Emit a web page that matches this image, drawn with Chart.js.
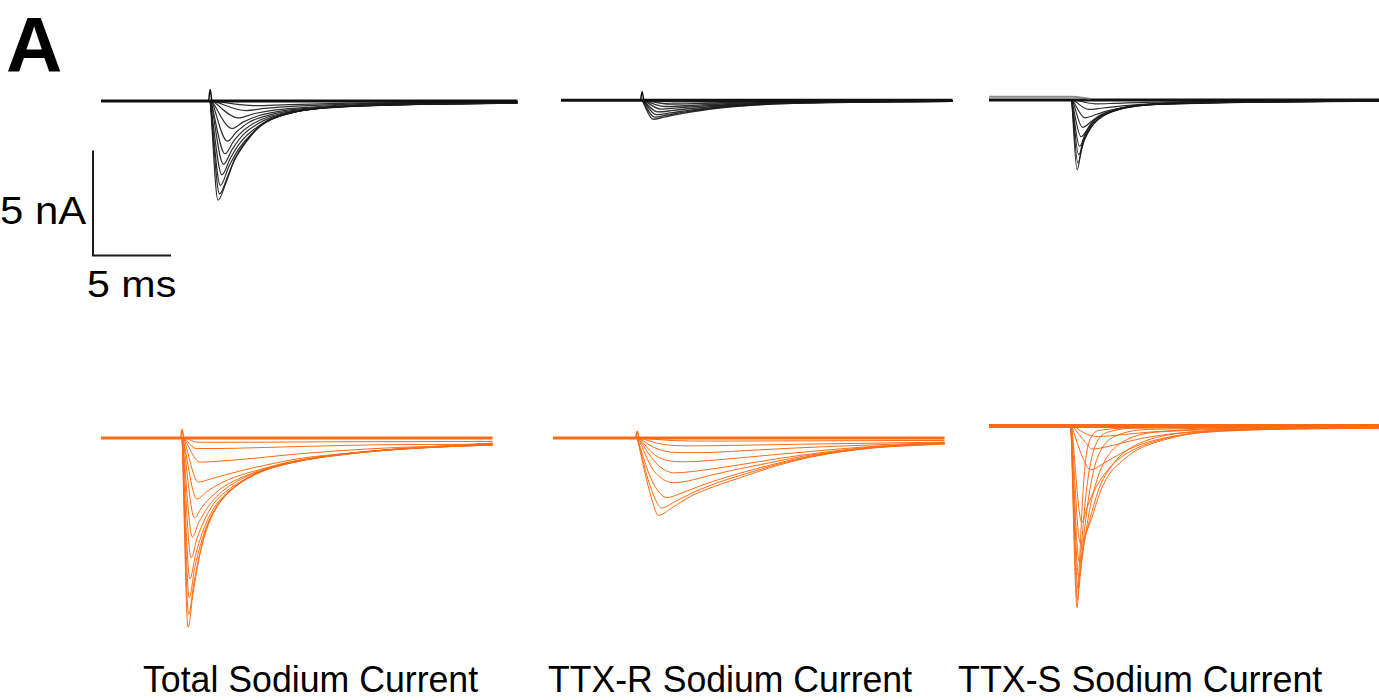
<!DOCTYPE html>
<html>
<head>
<meta charset="utf-8">
<script src="https://cdn.jsdelivr.net/npm/chart.js@4.4.1/dist/chart.umd.min.js"></script>
<style>
  body { margin: 0; background: #fff; width: 1379px; height: 700px; overflow: hidden; position: relative;
         font-family: "Liberation Sans", Arial, sans-serif; }
  canvas { position: absolute; }
  .t { position: absolute; white-space: nowrap; line-height: 1; color: #000; transform-origin: 0 0; }
</style>
</head>
<body>
<div class="t" id="lblA" style="font-weight:bold;font-size:78px;left:6px;top:6px">A</div>
<div class="t" id="lblNA" data-w="86" style="font-size:38px;left:0px;top:192px">5 nA</div>
<div class="t" id="lblMS" data-w="89" style="font-size:37px;left:87px;top:266px">5 ms</div>
<div class="t" data-w="335" style="font-size:36px;left:143px;top:662px">Total Sodium Current</div>
<div class="t" data-w="364" style="font-size:36px;left:548px;top:662px">TTX-R Sodium Current</div>
<div class="t" data-w="364" style="font-size:36px;left:958px;top:662px">TTX-S Sodium Current</div>
<script>
// scale of the figure: 5 ms / 5 nA scale bar
const PX_MS = 15.6, PX_NA = 21;
const scaleBar = [[0, 5], [0, 0], [5, 0]];

// ---- control (black) ----  [time ms, current nA]
const totalBlackBase = [[0, 0], [26.7, 0]];
const totalBlackArtifact = [[6.9, 0], [7.0, 0.55], [7.1, 0]];
const totalBlackTraces = [
  [[7.0, 0], [7.5, -4.7], [8.0, -3.9], [8.5, -2.9], [9.4, -1.85], [10.4, -1.05], [12.1, -0.57], [14.2, -0.33], [18.5, -0.19], [26.7, -0.1]],
  [[7.0, 0], [7.6, -4.4], [8.1, -3.6], [8.6, -2.7], [9.4, -1.8], [10.4, -1.05], [12.1, -0.57], [14.2, -0.32], [18.5, -0.18], [26.7, -0.1]],
  [[7.0, 0], [7.65, -4.0], [8.2, -3.1], [8.8, -2.3], [9.6, -1.6], [10.6, -1.0], [12.3, -0.55], [14.5, -0.31], [26.7, -0.09]],
  [[7.0, 0], [7.75, -3.5], [8.3, -2.7], [9.0, -1.9], [9.8, -1.35], [10.8, -0.9], [12.5, -0.5], [15, -0.28], [26.7, -0.08]],
  [[7.05, 0], [7.85, -3.0], [8.4, -2.3], [9.1, -1.6], [10, -1.1], [11, -0.75], [12.8, -0.45], [15.5, -0.25], [26.7, -0.08]],
  [[7.05, 0], [7.95, -2.5], [8.5, -1.9], [9.2, -1.35], [10.2, -0.9], [11.5, -0.6], [13.5, -0.38], [26.7, -0.07]],
  [[7.1, 0], [8.1, -1.9], [8.7, -1.45], [9.5, -1.0], [10.6, -0.7], [12, -0.48], [14.5, -0.3], [26.7, -0.06]],
  [[7.1, 0], [8.4, -1.3], [9.1, -1.0], [10, -0.72], [11.5, -0.48], [13.5, -0.32], [26.7, -0.05]],
  [[7.15, 0], [8.8, -0.8], [9.8, -0.6], [11.2, -0.42], [13.5, -0.28], [17, -0.15], [26.7, -0.05]],
  [[7.2, 0], [9.3, -0.45], [10.5, -0.35], [12.5, -0.24], [16, -0.14], [26.7, -0.04]],
  [[7.2, 0], [9.8, -0.22], [12, -0.17], [16, -0.1], [26.7, -0.03]]
];

const ttxrBlackBase = [[0, 0], [25.1, 0]];
const ttxrBlackArtifact = [[5.1, 0], [5.2, 0.4], [5.3, 0]];
const ttxrBlackTraces = [
  [[5.2, 0], [5.9, -0.9], [6.6, -0.8], [7.8, -0.62], [10, -0.38], [13.2, -0.19], [18.5, -0.1], [25.1, -0.05]],
  [[5.2, 0], [6.0, -0.8], [6.8, -0.7], [8, -0.55], [10.2, -0.34], [13.4, -0.18], [25.1, -0.05]],
  [[5.25, 0], [6.1, -0.68], [7, -0.6], [8.2, -0.48], [10.4, -0.3], [13.6, -0.16], [25.1, -0.04]],
  [[5.25, 0], [6.2, -0.55], [7.2, -0.48], [8.5, -0.38], [10.6, -0.25], [14, -0.14], [25.1, -0.04]],
  [[5.3, 0], [6.4, -0.42], [7.5, -0.36], [9, -0.28], [11, -0.2], [14.5, -0.11], [25.1, -0.03]],
  [[5.3, 0], [6.7, -0.3], [8, -0.26], [9.5, -0.2], [12, -0.13], [25.1, -0.03]],
  [[5.35, 0], [7, -0.18], [9, -0.15], [12, -0.09], [25.1, -0.02]],
  [[5.4, 0], [7.5, -0.08], [10, -0.07], [25.1, -0.02]]
];

const ttxsBlackBase = [[0, 0], [25, 0]];
const ttxsBlackNoise = [[0, 0.15], [5.3, 0.15], [6.5, 0.05]];
const ttxsBlackTraces = [
  [[5.3, 0], [5.65, -3.33], [6.0, -1.95], [6.35, -1.35], [6.7, -0.95], [7.95, -0.48], [9.7, -0.24], [12.2, -0.14], [25, -0.06]],
  [[5.3, 0], [5.7, -3.0], [6.05, -2.0], [6.4, -1.4], [6.8, -0.95], [8, -0.48], [9.8, -0.24], [25, -0.06]],
  [[5.3, 0], [5.75, -2.6], [6.15, -1.85], [6.55, -1.3], [7, -0.9], [8.1, -0.47], [10, -0.23], [25, -0.05]],
  [[5.3, 0], [5.8, -2.2], [6.25, -1.6], [6.7, -1.15], [7.2, -0.82], [8.3, -0.45], [10.2, -0.22], [25, -0.05]],
  [[5.3, 0], [5.9, -1.75], [6.4, -1.3], [6.9, -0.95], [7.5, -0.68], [8.6, -0.4], [10.5, -0.2], [25, -0.05]],
  [[5.35, 0], [6.0, -1.3], [6.6, -1.0], [7.2, -0.75], [7.9, -0.54], [9, -0.34], [11, -0.18], [25, -0.04]],
  [[5.35, 0], [6.15, -0.85], [6.9, -0.68], [7.6, -0.52], [8.5, -0.38], [10, -0.24], [12, -0.14], [25, -0.04]],
  [[5.4, 0], [6.4, -0.45], [7.3, -0.38], [8.3, -0.3], [9.5, -0.22], [12, -0.12], [25, -0.03]],
  [[5.45, 0], [6.8, -0.18], [8, -0.16], [10, -0.11], [25, -0.02]]
];

// ---- orange ----
const totalOrangeBase = [[0, 0], [25.1, 0]];
const totalOrangeArtifact = [[5.1, 0], [5.2, 0.4], [5.3, 0]];
const totalOrangeTraces = [
  [[5.2, 0], [5.58, -9.0], [5.9, -7.4], [6.35, -5.5], [6.8, -4.2], [7.4, -3.3], [8.3, -2.5], [10, -1.7], [12.1, -1.2], [16.4, -0.71], [20.6, -0.43], [25.1, -0.24]],
  [[5.2, 0], [5.62, -8.4], [5.95, -6.9], [6.4, -5.3], [6.9, -4.1], [7.5, -3.2], [8.4, -2.45], [10, -1.68], [12.2, -1.18], [16.4, -0.7], [25.1, -0.25]],
  [[5.2, 0], [5.66, -7.6], [6.0, -6.2], [6.45, -4.9], [7.0, -3.8], [7.6, -3.05], [8.5, -2.35], [10.2, -1.62], [12.4, -1.14], [16.6, -0.68], [25.1, -0.26]],
  [[5.2, 0], [5.7, -6.7], [6.05, -5.6], [6.5, -4.5], [7.1, -3.5], [7.8, -2.8], [8.8, -2.2], [10.4, -1.55], [12.6, -1.1], [17, -0.66], [25.1, -0.27]],
  [[5.22, 0], [5.78, -5.7], [6.15, -4.8], [6.6, -3.95], [7.2, -3.15], [8, -2.55], [9, -2.05], [10.6, -1.48], [12.8, -1.06], [17, -0.65], [25.1, -0.28]],
  [[5.22, 0], [5.86, -4.7], [6.25, -4.05], [6.75, -3.4], [7.4, -2.8], [8.2, -2.3], [9.2, -1.88], [11, -1.38], [13, -1.02], [17.5, -0.62], [25.1, -0.29]],
  [[5.25, 0], [6.0, -3.8], [6.45, -3.3], [7, -2.85], [7.7, -2.4], [8.5, -2.05], [9.6, -1.7], [11.3, -1.3], [13.5, -0.96], [18, -0.6], [25.1, -0.3]],
  [[5.25, 0], [6.15, -2.9], [6.7, -2.6], [7.3, -2.3], [8.1, -2.0], [9, -1.75], [10.2, -1.5], [12, -1.15], [14.5, -0.88], [18.5, -0.57], [25.1, -0.32]],
  [[5.3, 0], [6.25, -2.1], [7, -1.95], [8, -1.75], [9, -1.55], [10.5, -1.3], [12.5, -1.0], [15, -0.78], [19, -0.52], [25.1, -0.33]],
  [[5.3, 0], [6.35, -1.15], [7.2, -1.12], [8.5, -1.05], [10, -0.95], [12, -0.8], [15, -0.62], [19, -0.45], [25.1, -0.35]],
  [[5.35, 0], [6.1, -0.5], [7.5, -0.5], [10, -0.46], [13, -0.4], [18, -0.32], [25.1, -0.3]],
  [[5.4, 0], [6.2, -0.2], [9, -0.2], [15, -0.18], [25.1, -0.16]]
];

const ttxrOrangeBase = [[0, 0], [25.1, 0]];
const ttxrOrangeArtifact = [[5.3, 0], [5.4, 0.32], [5.5, 0]];
const ttxrOrangeTraces = [
  [[5.4, 0], [6.0, -2.0], [6.4, -3.1], [6.75, -3.7], [7.7, -3.3], [8.8, -2.8], [10.3, -2.33], [12, -1.9], [14.1, -1.38], [16.3, -0.95], [18.4, -0.67], [20.5, -0.48], [25.1, -0.29]],
  [[5.4, 0], [6.1, -2.0], [6.6, -3.0], [6.95, -3.35], [7.8, -3.05], [9, -2.6], [10.5, -2.15], [12.2, -1.75], [14.3, -1.28], [16.5, -0.9], [20.5, -0.46], [25.1, -0.28]],
  [[5.4, 0], [6.2, -1.8], [6.8, -2.6], [7.3, -2.85], [8.2, -2.65], [9.4, -2.3], [11, -1.9], [12.8, -1.52], [15, -1.1], [17, -0.8], [21, -0.44], [25.1, -0.27]],
  [[5.45, 0], [6.4, -1.5], [7.1, -2.0], [7.7, -2.14], [8.7, -2.05], [10, -1.8], [11.8, -1.5], [13.8, -1.2], [16, -0.88], [21, -0.42], [25.1, -0.26]],
  [[5.45, 0], [6.6, -1.2], [7.2, -1.55], [7.8, -1.67], [9, -1.6], [10.5, -1.45], [12.5, -1.22], [14.5, -0.98], [17, -0.72], [21, -0.4], [25.1, -0.25]],
  [[5.5, 0], [6.5, -0.8], [7.5, -1.1], [8.5, -1.14], [10, -1.08], [12, -0.95], [14.5, -0.78], [17.5, -0.58], [21, -0.38], [25.1, -0.24]],
  [[5.5, 0], [6.6, -0.5], [8, -0.7], [9.5, -0.7], [12, -0.62], [15, -0.5], [18, -0.4], [25.1, -0.22]],
  [[5.55, 0], [7, -0.3], [9, -0.38], [12, -0.35], [16, -0.3], [25.1, -0.2]],
  [[5.6, 0], [7.5, -0.12], [10, -0.15], [16, -0.14], [25.1, -0.12]]
];

const ttxsOrangeBase = [[0, 0], [25, 0]];
const ttxsOrangeTraces = [
  [[5.25, 0], [5.65, -8.67], [5.8, -6.5], [6.0, -3.5], [6.2, -1.6], [6.5, -0.6], [7.2, -0.2], [10, -0.08], [25, -0.05]],
  [[5.25, 0], [5.68, -8.3], [5.9, -6.0], [6.2, -3.4], [6.5, -1.8], [6.9, -0.8], [7.6, -0.3], [10, -0.1], [25, -0.05]],
  [[5.25, 0], [5.72, -7.8], [6.0, -5.8], [6.35, -3.6], [6.75, -2.0], [7.3, -1.0], [8.2, -0.45], [11, -0.15], [25, -0.06]],
  [[5.25, 0], [5.76, -7.2], [6.1, -5.6], [6.5, -3.8], [7.0, -2.4], [7.6, -1.45], [8.6, -0.75], [11, -0.28], [25, -0.07]],
  [[5.25, 0], [5.8, -6.5], [6.2, -5.2], [6.67, -3.9], [7.1, -2.9], [7.76, -2.0], [8.6, -1.3], [10, -0.72], [13, -0.3], [25, -0.08]],
  [[5.28, 0], [5.86, -5.6], [6.28, -5.0], [6.67, -4.2], [7.1, -3.2], [7.76, -2.24], [8.4, -1.76], [9.5, -1.14], [11.2, -0.67], [13.3, -0.33], [16.5, -0.19], [25, -0.1]],
  [[5.3, 0], [5.95, -4.6], [6.3, -3.86], [6.8, -3.0], [7.4, -2.3], [8.2, -1.65], [9.5, -1.05], [11.2, -0.62], [13.3, -0.33], [25, -0.1]],
  [[5.3, 0], [6.0, -1.5], [6.5, -2.1], [7.2, -1.85], [8, -1.5], [9, -1.1], [10.5, -0.7], [12.5, -0.42], [15, -0.22], [25, -0.08]],
  [[5.35, 0], [6.2, -0.8], [6.6, -1.1], [7.5, -1.0], [8.5, -0.82], [10, -0.56], [12, -0.35], [15, -0.18], [25, -0.06]],
  [[5.4, 0], [6.3, -0.4], [7, -0.5], [8.5, -0.42], [10.5, -0.28], [14, -0.14], [25, -0.04]]
];

const BLACK = 'rgba(25,25,25,0.9)';
const ORANGE = '#ff6b14';

const toXY = pts => pts.map(p => ({ x: p[0], y: p[1] }));

function line(pts, color, width) {
  return {
    data: toXY(pts),
    borderColor: color,
    borderWidth: width,
    pointRadius: 0,
    fill: false,
    cubicInterpolationMode: 'monotone'
  };
}

// x0/base: pixel position of t=0 / I=0 on the page
function panel(x0, base, tEnd, yMin, yMax, datasets) {
  const pad = 8;
  const cv = document.createElement('canvas');
  const w = Math.round(tEnd * PX_MS + 2 * pad);
  const h = Math.round((yMax - yMin) * PX_NA);
  cv.width = w; cv.height = h;
  cv.style.left = (x0 - pad) + 'px';
  cv.style.top = Math.round(base - yMax * PX_NA) + 'px';
  cv.style.width = w + 'px'; cv.style.height = h + 'px';
  document.body.appendChild(cv);
  new Chart(cv, {
    type: 'line',
    data: { datasets },
    options: {
      responsive: false,
      animation: false,
      devicePixelRatio: 1,
      layout: { padding: 0 },
      plugins: { legend: { display: false }, tooltip: { enabled: false } },
      scales: {
        x: { type: 'linear', display: false, min: -pad / PX_MS, max: (w - pad) / PX_MS },
        y: { type: 'linear', display: false, min: yMin, max: yMax }
      }
    }
  });
}

const fam = (traces, color, lw) => traces.map(t => line(t, color, lw));

panel(101, 101, 26.7, -5.5, 1.0, [line(totalBlackBase, '#111', 3), line(totalBlackArtifact, '#111', 1.5), ...fam(totalBlackTraces, BLACK, 1.2)]);
panel(561, 100, 25.1, -1.5, 1.0, [line(ttxrBlackBase, '#111', 3), line(ttxrBlackArtifact, '#111', 1.5), ...fam(ttxrBlackTraces, BLACK, 1.4)]);
panel(989, 100, 25.0, -4.0, 1.0, [line(ttxsBlackNoise, 'rgba(110,110,110,0.8)', 2), line(ttxsBlackBase, '#111', 3), ...fam(ttxsBlackTraces, BLACK, 1.2)]);

panel(101, 438, 25.1, -9.8, 1.0, [line(totalOrangeBase, ORANGE, 3), line(totalOrangeArtifact, ORANGE, 1.5), ...fam(totalOrangeTraces, ORANGE, 1)]);
panel(553, 438, 25.1, -4.4, 1.0, [line(ttxrOrangeBase, ORANGE, 3), line(ttxrOrangeArtifact, ORANGE, 1.5), ...fam(ttxrOrangeTraces, ORANGE, 1)]);
panel(989, 426, 25.0, -9.4, 1.0, [line(ttxsOrangeBase, ORANGE, 4), ...fam(ttxsOrangeTraces, ORANGE, 1)]);

// scale bar
panel(93, 255, 5, -0.5, 5.5, [line(scaleBar, '#1a1a1a', 2)]);

// stretch text to the widths seen in the figure
document.querySelectorAll('.t[data-w]').forEach(el => {
  const sx = +el.dataset.w / el.offsetWidth;
  el.style.transform = 'scaleX(' + sx.toFixed(3) + ')';
});
</script>
</body>
</html>
